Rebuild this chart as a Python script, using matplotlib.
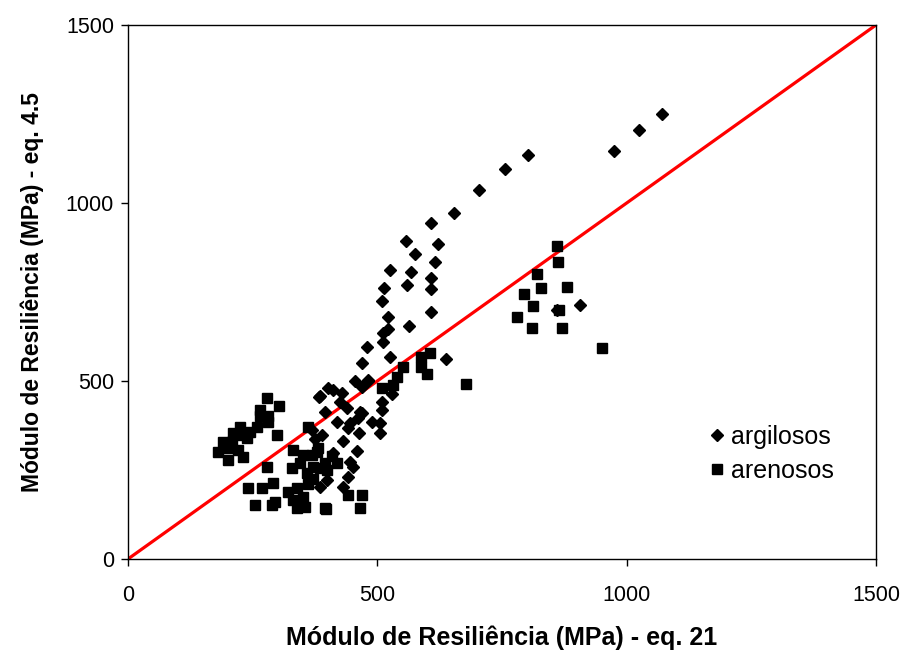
import matplotlib
matplotlib.use("Agg")
import matplotlib.pyplot as plt

plt.rcParams['font.family'] = ['Liberation Sans', 'DejaVu Sans']

# argilosos (diamonds)
arg_x = [608, 654, 704, 756, 802, 974, 1025, 1071,
         906, 860,
         557, 622, 575, 615, 525, 568, 607, 560, 513, 607, 510, 522, 607, 564, 522,
         511, 511, 479, 525, 638, 469, 481, 529, 509, 509, 469,
         455, 482, 385, 411, 429, 469, 395, 425, 439, 465, 462, 419, 445, 442,
         489, 505, 505, 463, 389, 375, 431, 459, 411, 445, 451, 442, 385, 431,
         399, 383, 369, 401]
arg_y = [944, 972, 1037, 1096, 1135, 1146, 1205, 1250,
         713, 700,
         893, 885, 857, 834, 812, 806, 789, 770, 761, 758, 725, 680, 694, 655, 646,
         635, 610, 595, 568, 562, 550, 503, 463, 441, 419, 410,
         500, 500, 458, 475, 466, 483, 413, 441, 424, 413, 396, 385, 382, 368,
         385, 382, 354, 354, 348, 337, 331, 303, 298, 272, 258, 230, 202, 202,
         222, 455, 362, 480]

# arenosos (squares)
are_x = [860, 862, 820, 828, 880, 795, 812, 780, 865, 810, 870, 950, 678,
         606, 588, 588, 600, 552, 539, 532, 509,
         361, 381, 369, 351, 345, 371, 385, 359, 331, 329, 339, 351, 339, 321,
         331, 395, 442, 469, 465, 355, 397, 420, 400, 410, 380, 395, 370, 360,
         279, 303, 265, 265, 281, 259, 281, 225, 245, 211, 229, 191, 209, 239,
         201, 181, 221, 201, 231, 299, 279, 241, 269, 291, 255, 289, 295]
are_y = [880, 835, 800, 760, 765, 745, 710, 680, 700, 650, 650, 593, 491,
         578, 567, 540, 520, 540, 512, 489, 480,
         371, 312, 292, 292, 270, 258, 256, 242, 306, 256, 199, 174, 143, 188,
         166, 143, 180, 180, 143, 146, 140, 270, 250, 290, 300, 270, 225, 210,
         452, 430, 419, 402, 402, 371, 385, 371, 357, 354, 348, 329, 329, 340,
         312, 301, 306, 278, 287, 348, 258, 199, 199, 213, 152, 152, 160]

line_x = [0, 1500]
line_y = [0, 1500]

fig = plt.figure(figsize=(9.07, 6.54), dpi=100)
ax = fig.add_axes([128/907, 1 - 559/654, (876-128)/907, (559-25)/654])

ax.plot(are_x, are_y, linestyle='none', marker='s', markersize=7.8, color='black',
        label='arenosos', zorder=3)
ax.plot(arg_x, arg_y, linestyle='none', marker='D', markersize=6.2, color='black',
        label='argilosos', zorder=3)
ax.plot(line_x, line_y, color='#ff0000', linewidth=2.3, zorder=2)

ax.set_xlim(0, 1500)
ax.set_ylim(0, 1500)
ax.set_xticks([0, 500, 1000, 1500])
ax.set_yticks([0, 500, 1000, 1500])
ax.tick_params(labelsize=15.5, direction='out', length=5, width=1, color='black')
ax.tick_params(axis='x', pad=14)
ax.tick_params(axis='y', pad=5)
for s in ax.spines.values():
    s.set_color('black')
    s.set_linewidth(1)

ax.set_xlabel('Módulo de Resiliência (MPa) - eq. 21', fontsize=18, fontweight='bold', labelpad=14)
ax.set_ylabel('Módulo de Resiliência (MPa) - eq. 4.5', fontsize=16.5, fontweight='bold', labelpad=16)

h, l = ax.get_legend_handles_labels()
ax.legend([h[1], h[0]], [l[1], l[0]], loc='upper left', bbox_to_anchor=(0.758, 0.27),
          frameon=False, fontsize=18, handletextpad=0.05, handlelength=1.0,
          labelspacing=0.4, borderaxespad=0)

fig.savefig('out.png', dpi=100)
